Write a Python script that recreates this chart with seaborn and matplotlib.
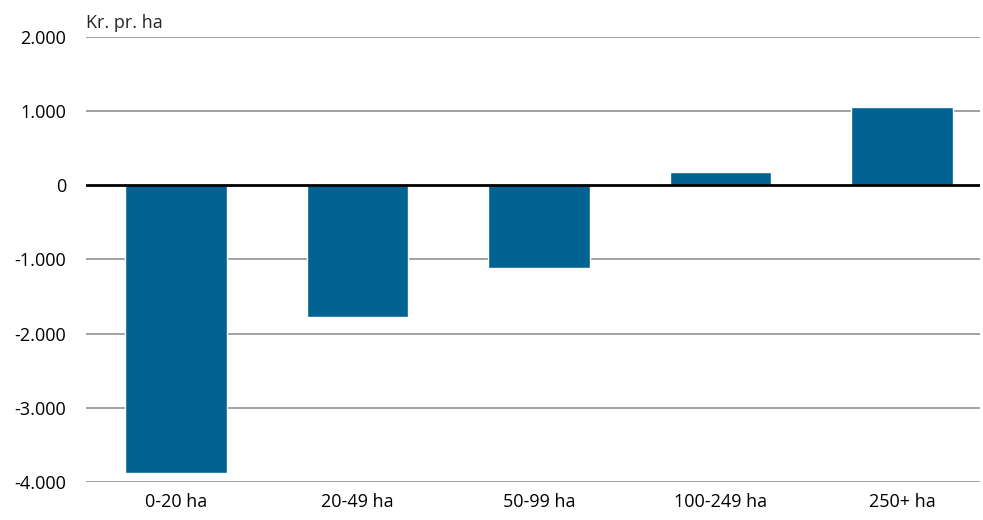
import matplotlib
matplotlib.use("Agg")
import matplotlib.pyplot as plt
import seaborn as sns
import pandas as pd
from matplotlib.ticker import FuncFormatter

kategorier = ["0-20 ha", "20-49 ha", "50-99 ha", "100-249 ha", "250+ ha"]
vaerdier = [-3875, -1775, -1120, 175, 1060]
y_ticks = [-4000, -3000, -2000, -1000, 0, 1000, 2000]

sns.set_style("white")
plt.rcParams["font.family"] = ["Open Sans", "DejaVu Sans"]

df = pd.DataFrame({"kategori": kategorier, "vaerdi": vaerdier})

fig = plt.figure(figsize=(9.83, 5.20), dpi=100)
ax = fig.add_axes([0.087, 0.073, 0.91, 0.856])

for y in y_ticks:
    if y != 0:
        ax.axhline(y, color="#9a9a9a", linewidth=1.3, zorder=0)

sns.barplot(data=df, x="kategori", y="vaerdi", color="#006391", saturation=1,
            width=0.56, ax=ax, zorder=2)
ax.axhline(0, color="black", linewidth=2, zorder=3)

ax.set_ylim(-4000, 2000)
ax.set_xlim(-0.5, 4.43)
ax.set_yticks(y_ticks)
ax.yaxis.set_major_formatter(FuncFormatter(lambda v, p: f"{int(v):,}".replace(",", ".")))
ax.set_xlabel("")
ax.set_ylabel("")
ax.tick_params(axis="both", length=0, labelsize=13, colors="black")
ax.tick_params(axis="y", pad=14)
ax.tick_params(axis="x", pad=8)
for s in ax.spines.values():
    s.set_visible(False)

ax.text(0.0, 1.012, "Kr. pr. ha", transform=ax.transAxes, fontsize=13,
        ha="left", va="bottom")

fig.savefig("out.png", dpi=100)
